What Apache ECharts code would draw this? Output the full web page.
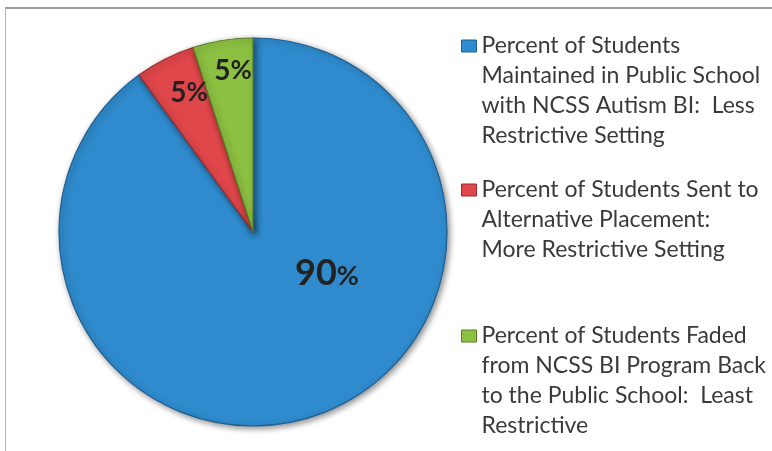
<!DOCTYPE html>
<html>
<head>
<meta charset="utf-8">
<script src="https://cdn.jsdelivr.net/npm/echarts@6/dist/echarts.min.js"></script>
<style>
html,body{margin:0;padding:0;background:#fff;}
#chart{position:absolute;left:0;top:0;width:772px;height:451px;}
#frame{position:absolute;left:5px;top:7px;width:800px;height:500px;border-top:2px solid #9c9c9c;border-left:1px solid #b4b4b4;pointer-events:none;}
</style>
</head>
<body>
<div id="chart"></div>
<div id="frame"></div>
<script>
const categories = [
  'Percent of Students\nMaintained in Public School\nwith NCSS Autism BI:  Less\nRestrictive Setting',
  'Percent of Students Sent to\nAlternative Placement:\nMore Restrictive Setting',
  'Percent of Students Faded\nfrom NCSS BI Program Back\nto the Public School:  Least\nRestrictive'
];
const values = [90, 5, 5];

const colors = ['#2f8bcd', '#e0474a', '#8cc042'];
const borders = ['#1d5f93', '#9c2a2c', '#5a7f25'];
const labelOffsets = [[74, 41], [-64, -139], [-20, -161]];
const legendTops = [-59, 115, 231];
const LH = 30;

const chart = echarts.init(document.getElementById('chart'), null, {renderer: 'canvas'});

const data = categories.map((name, i) => ({
  name: name,
  value: values[i],
  itemStyle: {color: colors[i], borderColor: borders[i], borderWidth: 1.2},
  label: {
    show: true,
    position: 'center',
    offset: labelOffsets[i],
    formatter: p => '{n|' + p.value + '}{p|%}',
    rich: i === 0 ? {
      n: {fontFamily: 'Lato', fontWeight: 'bold', fontSize: 36, color: '#222'},
      p: {fontFamily: 'Lato', fontWeight: 'bold', fontSize: 27, color: '#222', padding: [6, 0, 0, 0]}
    } : {
      n: {fontFamily: 'Lato', fontWeight: 'bold', fontSize: 28, color: '#222'},
      p: {fontFamily: 'Lato', fontWeight: 'bold', fontSize: 26, color: '#222'}
    }
  }
}));

const legends = categories.map((name, i) => {
  const n = name.split('\n').length;
  return {
    show: true,
    orient: 'vertical',
    left: 461,
    top: legendTops[i],
    padding: 0,
    itemWidth: 15,
    itemHeight: 12,
    icon: 'rect',
    selectedMode: false,
    data: [{name: name, itemStyle: {color: colors[i], borderColor: borders[i], borderWidth: 1}}],
    formatter: nm => '\n'.repeat(n - 1) + nm,
    textStyle: {fontFamily: 'Lato', fontSize: 23, lineHeight: LH, color: '#3a3a3a'}
  };
});

chart.setOption({
  animation: false,
  legend: legends,
  series: [{
    type: 'pie',
    center: [253, 232],
    radius: 194,
    startAngle: 90,
    clockwise: true,
    data: data,
    labelLine: {show: false},
    emphasis: {disabled: true},
    itemStyle: {shadowBlur: 6, shadowColor: 'rgba(0,0,0,0.45)', shadowOffsetX: 2, shadowOffsetY: 2}
  }]
});
</script>
</body>
</html>
